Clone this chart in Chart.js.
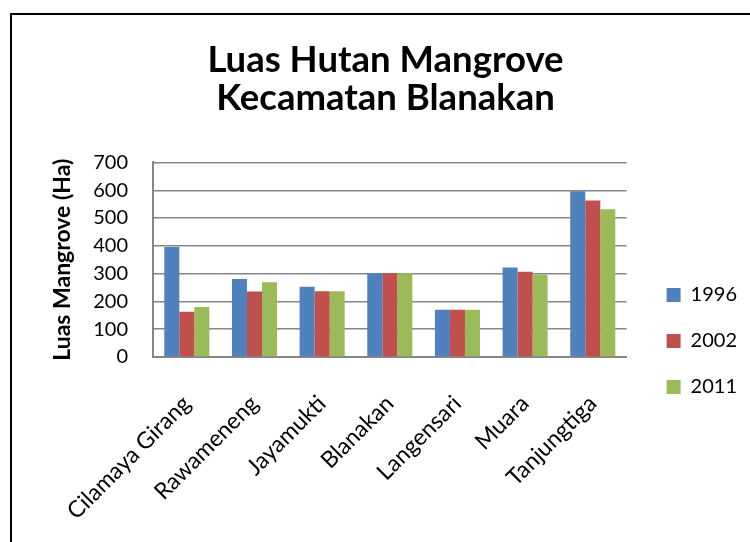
<!DOCTYPE html>
<html>
<head>
<meta charset="utf-8">
<script src="https://cdn.jsdelivr.net/npm/chart.js@4/dist/chart.umd.min.js"></script>
<style>
  body { margin: 0; overflow: hidden; background: #fff; }
  #wrap { position: relative; width: 750px; height: 542px; overflow: hidden; }
  #frame { position: absolute; left: 10px; top: 13px; width: 780px; height: 580px; border: 2px solid #000; }
  #canvas { position: absolute; left: 0; top: 0; }
</style>
</head>
<body>
<div id="wrap">
  <div id="frame"></div>
  <canvas id="canvas" width="750" height="542"></canvas>
</div>
<script>
// kategori (desa) dan data luas mangrove per tahun
var Labels = ['Cilamaya Girang', 'Rawameneng', 'Jayamukti', 'Blanakan', 'Langensari', 'Muara', 'Tanjungtiga'];
var tahun = ['1996', '2002', '2011'];
var data1996 = [396, 281, 253, 301, 170, 322, 596];
var data2002 = [163, 236, 237, 301, 170, 307, 563];
var data2011 = [180, 269, 237, 301, 170, 296, 532];
var yTicks = [0, 100, 200, 300, 400, 500, 600, 700];

var warna = ['#4F81BD', '#C0504D', '#9BBB59'];
var huruf = 'Lato, "Open Sans", sans-serif';

function drawChart() {
  var ctx = document.getElementById('canvas').getContext('2d');
  window.myChart = new Chart(ctx, {
    type: 'bar',
    data: {
      labels: Labels,
      datasets: [
        { label: tahun[0], data: data1996, backgroundColor: warna[0] },
        { label: tahun[1], data: data2002, backgroundColor: warna[1] },
        { label: tahun[2], data: data2011, backgroundColor: warna[2] }
      ]
    },
    options: {
      responsive: false,
      animation: false,
      devicePixelRatio: 1,
      categoryPercentage: 0.666,
      barPercentage: 1.0,
      layout: { padding: { left: 24, right: 3, top: 14, bottom: 0 } },
      plugins: {
        title: {
          display: true,
          text: ['Luas Hutan Mangrove', 'Kecamatan Blanakan'],
          color: '#000',
          font: { family: huruf, size: 36.5, weight: 'bold', lineHeight: 1.02 },
          padding: { top: 28, bottom: 46 }
        },
        legend: {
          position: 'right',
          maxWidth: 107,
          // judul kosong hanya untuk menurunkan posisi legenda
          title: { display: true, text: ' ', font: { size: 10 }, padding: { top: 114, bottom: 0 } },
          labels: {
            boxWidth: 14,
            boxHeight: 14,
            padding: 26,
            color: '#000',
            font: { family: huruf, size: 20 }
          }
        },
        tooltip: { enabled: false }
      },
      scales: {
        x: {
          grid: { display: false },
          border: { color: '#868686', width: 2 },
          ticks: {
            color: '#000',
            padding: 25,
            font: { family: huruf, size: 23 },
            minRotation: 45,
            maxRotation: 45,
            autoSkip: false
          },
          afterFit: function (s) { s.height = 185; }
        },
        y: {
          min: 0,
          max: 700,
          afterBuildTicks: function (s) { s.ticks = yTicks.map(function (v) { return { value: v }; }); },
          grid: { color: '#868686', lineWidth: 1.5, drawTicks: false },
          border: { color: '#868686', width: 2 },
          ticks: {
            color: '#000',
            padding: 25,
            font: { family: huruf, size: 20 }
          },
          title: {
            display: true,
            text: 'Luas Mangrove (Ha)',
            color: '#000',
            font: { family: huruf, size: 23, weight: 'bold' },
            padding: { top: 25, bottom: 4 }
          },
          afterFit: function (s) { s.width = 129; }
        },
        y2: {
          position: 'right',
          display: true,
          grid: { display: false, drawTicks: false },
          border: { display: false },
          ticks: { display: false },
          afterFit: function (s) { s.width = 14; }
        }
      }
    }
  });
}

drawChart();
</script>
</body>
</html>
